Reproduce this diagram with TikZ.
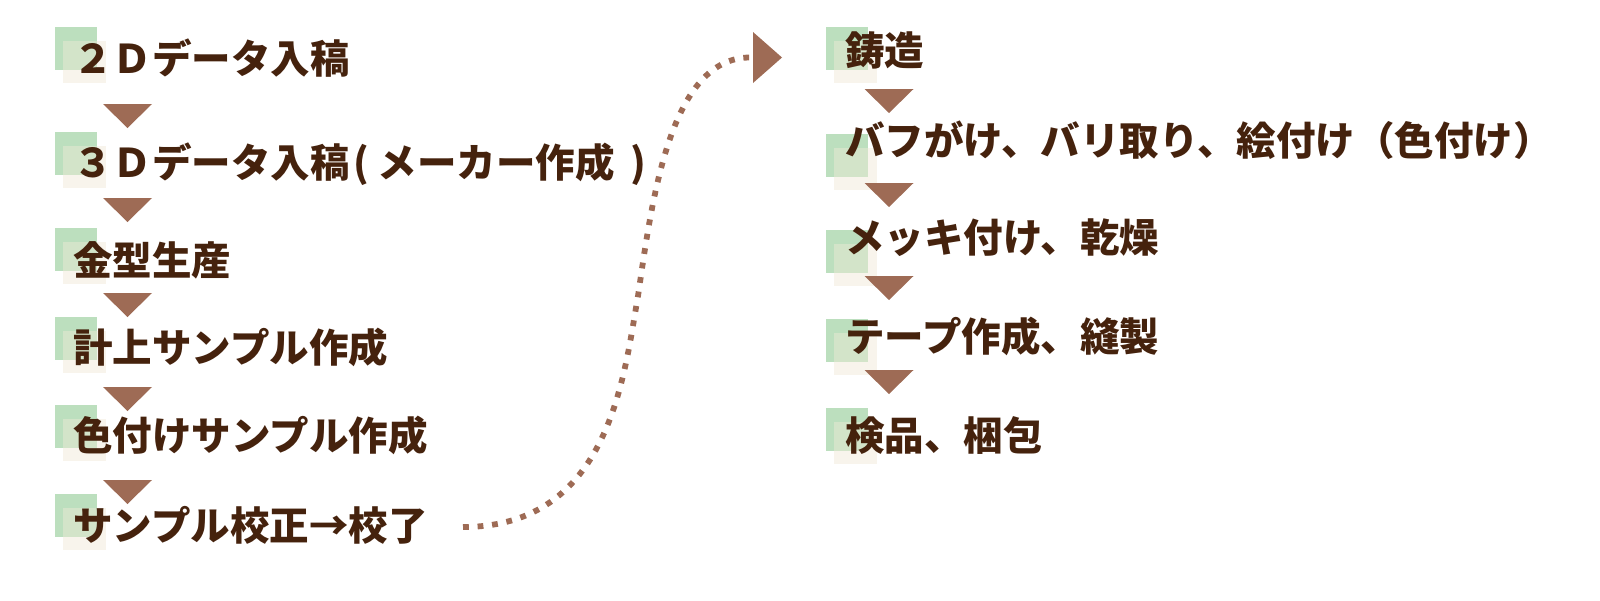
\documentclass[tikz,border=0pt]{standalone}
\usepackage{fontspec}
\newfontfamily\jp{Noto Sans CJK JP}
\definecolor{sqgreen}{HTML}{BCDFBE}
\definecolor{sqover}{HTML}{D3E4C9}
\definecolor{sqbeige}{HTML}{F8F4EC}
\definecolor{tricol}{HTML}{9E6B55}
\definecolor{txtcol}{HTML}{45220D}
\tikzset{
  lbl/.style={font=\jp\bfseries\fontsize{19.75pt}{20pt}\selectfont, text=txtcol, inner sep=0pt, anchor=base west},
  tri/.style={fill=tricol, draw=none},
  dotline/.style={draw=tricol, line width=2.9pt, dash pattern=on 2.9pt off 4.4pt},
}
\newcommand\markbox[2]{%
  \fill[sqgreen] (#1,#2) rectangle ++(42,43);
  \fill[sqbeige] (#1+8,#2+14) rectangle ++(43,42);
  \fill[sqover] (#1+8,#2+14) rectangle (#1+42,#2+43);
}
\newcommand\downtri[2]{%
  \fill[tri] (#1-24.5,#2) -- (#1+24.5,#2) -- (#1,#2+24) -- cycle;
}
\begin{document}
\begin{tikzpicture}[x=0.5pt,y=-0.5pt]
\useasboundingbox (0,0) rectangle (1600,600);
% left column marks
\markbox{55}{27}
\markbox{55}{132}
\markbox{55}{228}
\markbox{55}{317}
\markbox{55}{405}
\markbox{55}{494}
% right column marks
\markbox{826}{27}
\markbox{826}{134}
\markbox{826}{230}
\markbox{826}{319}
\markbox{826}{408}
% left triangles
\downtri{127.5}{104}
\downtri{127.5}{198}
\downtri{127.5}{293}
\downtri{127.5}{387}
\downtri{127.5}{480}
% right triangles
\downtri{889}{89}
\downtri{889}{183}
\downtri{889}{276}
\downtri{889}{370}
% left labels
\node[lbl] (l1) at (73,73.5) {２Ｄデータ入稿};
\node[lbl] (l2) at (73,177.5) {３Ｄデータ入稿\hspace{0.08em}(\hspace{0.22em}メーカー作成\hspace{0.4em})};
\node[lbl] (l3) at (73,275) {金型生産};
\node[lbl] (l4) at (73,362.5) {計上サンプル作成};
\node[lbl] (l5) at (73,450.5) {色付けサンプル作成};
\node[lbl] (l6) at (73,540.5) {サンプル校正→校了};
% right labels
\node[lbl] (r1) at (845,65) {鋳造};
\node[lbl] (r2) at (845,155) {バフがけ、バリ取り、絵付け（色付け）};
\node[lbl] (r3) at (845,252) {メッキ付け、乾燥};
\node[lbl] (r4) at (845,351) {テープ作成、縫製};
\node[lbl] (r5) at (845,450) {検品、梱包};
% dotted connector
\coordinate (cs) at (463,527);
\coordinate (cm) at (638,296);
\coordinate (ce) at (750,57.5);
\draw[dotline] (cs) .. controls (610,527) and (624,375) .. (cm)
  .. controls (652,200) and (670,57.5) .. (ce);
\fill[tri] (753,32) -- (782,57.5) -- (753,83) -- cycle;
\end{tikzpicture}
\end{document}
